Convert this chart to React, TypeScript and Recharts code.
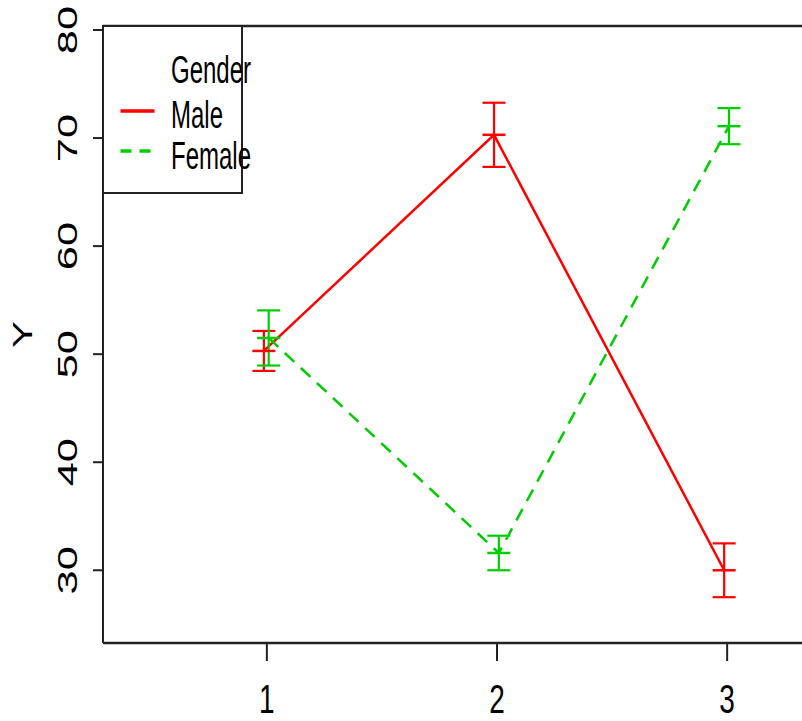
import { ErrorBar, Legend, Line, LineChart, ReferenceLine, XAxis, YAxis } from 'recharts'

const groups = [1, 2, 3]
const maleMeans = [50.3, 70.3, 30.0]
const maleErrors = [1.85, 2.97, 2.49]
const femaleMeans = [51.5, 31.6, 71.1]
const femaleErrors = [2.55, 1.6, 1.67]
const yTicks = [30, 40, 50, 60, 70, 80]
const legendTitle = 'Gender'
const seriesNames = ['Male', 'Female']

const maleColor = '#ff0000'
const femaleColor = '#00cd00'
const font = '"Liberation Sans", Arial, sans-serif'
const xDomain = [0.288, 3.712]
const yDomain = [23.27, 80.37]
// R's interaction plot nudges each series a little off the category
const maleDodge = -0.013
const femaleDodge = 0.008

const maleData = groups.map((g, i) => ({ x: g + maleDodge, y: maleMeans[i], err: maleErrors[i] }))
const femaleData = groups.map((g, i) => ({ x: g + femaleDodge, y: femaleMeans[i], err: femaleErrors[i] }))

function meanMark(color: string) {
  return (props: any) => {
    const { cx, cy, index } = props
    return (
      <line
        key={`m-${color}-${index}`}
        x1={cx - 11.5}
        x2={cx + 11.5}
        y1={cy}
        y2={cy}
        stroke={color}
        strokeWidth={2.5}
      />
    )
  }
}

function YTick(props: any) {
  const { x, y, payload } = props
  return (
    <text
      transform={`translate(${x - 14},${y}) scale(1,1.55) rotate(-90)`}
      textAnchor="middle"
      fontSize={28}
      fontFamily={font}
      fill="#000"
    >
      {payload.value}
    </text>
  )
}

function XTick(props: any) {
  const { x, y, payload } = props
  return (
    <text
      transform={`translate(${x},${y + 50}) scale(1,1.45)`}
      textAnchor="middle"
      fontSize={28}
      fontFamily={font}
      fill="#000"
    >
      {payload.value}
    </text>
  )
}

function YTitle(props: any) {
  const { viewBox } = props
  const cy = viewBox.y + viewBox.height / 2
  return (
    <text
      transform={`translate(32,${cy}) scale(1,1.5) rotate(-90)`}
      textAnchor="middle"
      fontSize={27}
      fontFamily={font}
      fill="#000"
    >
      Y
    </text>
  )
}

function LegendBox() {
  const label = (text: string, y: number) => (
    <text
      transform={`translate(171,${y}) scale(1,1.65)`}
      fontSize={24}
      fontFamily={font}
      fill="#000"
    >
      {text}
    </text>
  )
  return (
    <svg width={260} height={200} style={{ display: 'block' }}>
      <rect x={103} y={26} width={139} height={167} fill="#fff" stroke="#222" strokeWidth={2} />
      {label(legendTitle, 83)}
      <line x1={120.5} x2={154.5} y1={111} y2={111} stroke={maleColor} strokeWidth={3.5} />
      {label(seriesNames[0], 128)}
      <line
        x1={120.5}
        x2={154.5}
        y1={151}
        y2={151}
        stroke={femaleColor}
        strokeWidth={3.5}
        strokeDasharray="11 8"
      />
      {label(seriesNames[1], 169)}
    </svg>
  )
}

export default function App() {
  return (
    <div
      style={{
        position: 'fixed',
        left: 0,
        top: 0,
        width: 802,
        height: 721,
        overflow: 'hidden',
        background: '#fff',
      }}
    >
      <LineChart width={891} height={721} margin={{ top: 26, right: 0, bottom: 0, left: 0 }}>
        <XAxis
          dataKey="x"
          type="number"
          domain={xDomain}
          allowDataOverflow
          ticks={groups}
          tickSize={18}
          tick={<XTick />}
          height={78}
          axisLine={{ stroke: '#222', strokeWidth: 2.5 }}
          tickLine={{ stroke: '#222', strokeWidth: 2 }}
        />
        <YAxis
          type="number"
          domain={yDomain}
          allowDataOverflow
          ticks={yTicks}
          tickSize={10}
          tick={<YTick />}
          width={103}
          axisLine={{ stroke: '#222', strokeWidth: 2 }}
          tickLine={{ stroke: '#222', strokeWidth: 2 }}
          label={{ content: <YTitle /> }}
        />
        <ReferenceLine y={yDomain[1]} stroke="#222" strokeWidth={2.5} />
        <Line
          data={maleData}
          dataKey="y"
          name={seriesNames[0]}
          stroke={maleColor}
          strokeWidth={2.5}
          dot={meanMark(maleColor)}
          activeDot={false}
          isAnimationActive={false}
        >
          <ErrorBar dataKey="err" direction="y" width={11.5} stroke={maleColor} strokeWidth={2.2} />
        </Line>
        <Line
          data={femaleData}
          dataKey="y"
          name={seriesNames[1]}
          stroke={femaleColor}
          strokeWidth={2.5}
          strokeDasharray="13 9"
          dot={meanMark(femaleColor)}
          activeDot={false}
          isAnimationActive={false}
        >
          <ErrorBar dataKey="err" direction="y" width={11.5} stroke={femaleColor} strokeWidth={2.2} />
        </Line>
        <Legend
          layout="vertical"
          align="center"
          verticalAlign="middle"
          content={() => <LegendBox />}
          wrapperStyle={{ position: 'absolute', left: 0, top: 0, width: 260, height: 200 }}
        />
      </LineChart>
    </div>
  )
}
